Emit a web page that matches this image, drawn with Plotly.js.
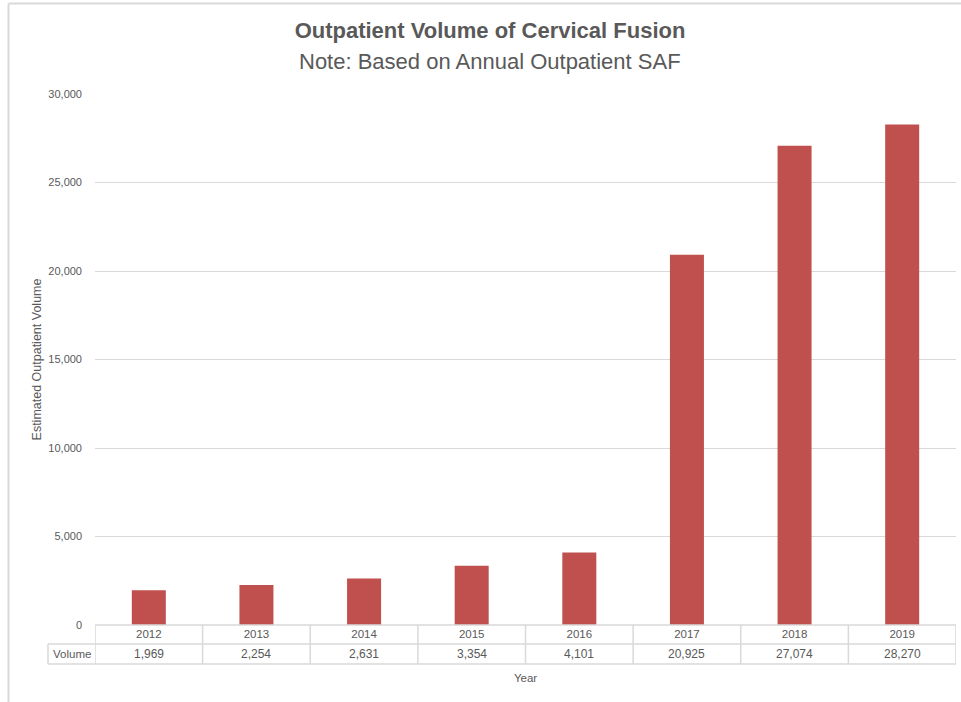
<!DOCTYPE html>
<html>
<head>
<meta charset="utf-8">
<script src="https://cdn.plot.ly/plotly-3.0.1.min.js"></script>
<style>html,body{margin:0;padding:0;background:#fff;}#chart{width:961px;height:702px;}</style>
</head>
<body>
<div id="chart"></div>
<script>
const years = ["2012", "2013", "2014", "2015", "2016", "2017", "2018", "2019"];
const volume = [1969, 2254, 2631, 3354, 4101, 20925, 27074, 28270];
const seriesName = "Volume";
const yTicks = [0, 5000, 10000, 15000, 20000, 25000, 30000];
const titleText = "Outpatient Volume of Cervical Fusion";
const subtitleText = "Note: Based on Annual Outpatient SAF";

const FONT = "Liberation Sans, Arial, sans-serif";
const GREY = "#595959";
const LINE = "#d9d9d9";

// plot geometry in pixels (for converting table rows to paper units)
const W = 961, H = 702, L = 95, R = 5, T = 94, B = 77;
const plotW = W - L - R, plotH = H - T - B;
const py = p => (H - B - p) / plotH;   // pixel y -> paper y
const px = p => (p - L) / plotW;       // pixel x -> paper x

const fmt = v => v.toLocaleString("en-US");

const shapes = [];
const annotations = [];

// data-table horizontal lines
[625, 644, 664].forEach(p => {
  shapes.push({type: "line", xref: "paper", yref: "paper", x0: 0, x1: 1, y0: py(p), y1: py(p),
    line: {color: LINE, width: 1.5}});
});
// header cell for series name
shapes.push({type: "line", xref: "paper", yref: "paper", x0: px(48), x1: 0, y0: py(644), y1: py(644), line: {color: LINE, width: 1.5}});
shapes.push({type: "line", xref: "paper", yref: "paper", x0: px(48), x1: 0, y0: py(664), y1: py(664), line: {color: LINE, width: 1.5}});
shapes.push({type: "line", xref: "paper", yref: "paper", x0: px(48), x1: px(48), y0: py(644), y1: py(664), line: {color: LINE, width: 1.5}});
// vertical column lines at category boundaries
for (let i = 0; i <= years.length; i++) {
  shapes.push({type: "line", xref: "x", yref: "paper", x0: i - 0.5, x1: i - 0.5, y0: py(625), y1: py(664),
    line: {color: LINE, width: 1.5}});
}
// chart border (top and left visible)
shapes.push({type: "line", xref: "paper", yref: "paper", x0: px(8.5), x1: px(975), y0: py(3.5), y1: py(3.5), line: {color: LINE, width: 2}});
shapes.push({type: "line", xref: "paper", yref: "paper", x0: px(8.5), x1: px(8.5), y0: py(3.5), y1: py(720), line: {color: LINE, width: 2}});

// value row of the data table (category axis: position by index)
volume.forEach((v, i) => {
  annotations.push({x: i, y: py(654), xref: "x", yref: "paper", text: fmt(v), showarrow: false,
    xanchor: "center", yanchor: "middle", font: {family: FONT, size: 12, color: GREY}});
});
annotations.push({x: px(71.5), y: py(654), xref: "paper", yref: "paper", text: seriesName, showarrow: false,
  xanchor: "center", yanchor: "middle", font: {family: FONT, size: 11.5, color: GREY}});
// subtitle
annotations.push({x: px(490), y: py(61), xref: "paper", yref: "paper", text: subtitleText, showarrow: false,
  xanchor: "center", yanchor: "middle", font: {family: FONT, size: 22, color: GREY}});

const trace = {
  type: "bar",
  x: years,
  y: volume,
  name: seriesName,
  marker: {color: "#C0504D"},
  hoverinfo: "x+y"
};

const layout = {
  width: W, height: H,
  margin: {l: L, r: R, t: T, b: B, pad: 0},
  paper_bgcolor: "#ffffff",
  plot_bgcolor: "#ffffff",
  showlegend: false,
  bargap: 0.684,
  font: {family: FONT, color: GREY},
  title: {
    text: "<b>" + titleText + "</b>",
    x: 490 / W, xref: "container", xanchor: "center",
    y: 1 - 30 / H, yref: "container", yanchor: "middle",
    font: {family: FONT, size: 22, color: GREY}
  },
  xaxis: {
    type: "category",
    range: [-0.5, years.length - 0.5],
    showgrid: false, zeroline: false, showline: false,
    ticks: "",
    tickfont: {family: FONT, size: 11.5, color: GREY},
    fixedrange: true,
    title: {text: "Year", font: {family: FONT, size: 11.5, color: GREY}, standoff: 35}
  },
  yaxis: {
    range: [0, 30000],
    tickvals: yTicks,
    tickformat: ",d",
    showgrid: true, gridcolor: LINE, gridwidth: 1,
    zeroline: false, showline: false, ticks: "",
    ticklabelstandoff: 12,
    tickfont: {family: FONT, size: 11, color: GREY},
    fixedrange: true,
    title: {text: "Estimated Outpatient Volume", font: {family: FONT, size: 12.5, color: GREY}, standoff: 3}
  },
  shapes: shapes,
  annotations: annotations
};

Plotly.newPlot("chart", [trace], layout, {displayModeBar: false});
</script>
</body>
</html>
